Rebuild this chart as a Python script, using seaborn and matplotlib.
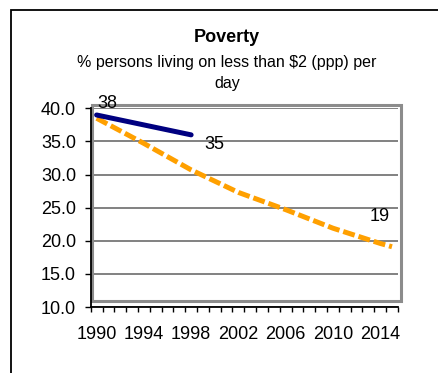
import numpy as np
import pandas as pd
import matplotlib
matplotlib.use("Agg")
import matplotlib.pyplot as plt
from matplotlib.patches import Rectangle
import seaborn as sns

# Observed share of people below $2 (ppp) a day
actual_years = [1990, 1998]
actual_values = [38.99, 35.99]

# Path toward halving the 1990 rate by 2015
target_years = [1990, 1994, 1998, 2002, 2006, 2010, 2014, 2015]
target_values = [38.5, 34.7, 30.7, 27.3, 24.7, 21.9, 19.6, 19.1]

year_labels = [1990, 1994, 1998, 2002, 2006, 2010, 2014]
y_ticks = [10, 15, 20, 25, 30, 35, 40]

sns.set_style("white")
plt.rcParams["font.family"] = ["Liberation Sans", "DejaVu Sans"]
plt.rcParams.update({"text.color": "black", "xtick.color": "black",
                     "ytick.color": "black", "axes.labelcolor": "black"})

W, H = 439, 373
fig = plt.figure(figsize=(W / 100, H / 100), dpi=100)
ax = fig.add_axes([90.7 / W, 1 - 307 / H, 307.2 / W, 198.7 / H])

actual = pd.DataFrame({"year": actual_years, "value": actual_values})
target = pd.DataFrame({"year": target_years, "value": target_values})

sns.lineplot(data=target, x="year", y="value", ax=ax, color="#FFA000",
             lw=3.6, linestyle=(0, (2.4, 0.8)), dash_capstyle="butt", zorder=3)
sns.lineplot(data=actual, x="year", y="value", ax=ax, color="#000080",
             lw=3.6, solid_capstyle="round", zorder=4)

ax.set_xlim(1989.5, 2015.5)
ax.set_ylim(10, 40)
ax.set_xlabel("")
ax.set_ylabel("")

# horizontal grid
ax.set_yticks(y_ticks)
ax.set_yticklabels([f"{v:.1f}" for v in y_ticks])
ax.grid(axis="y", color="#777777", lw=1.3)
ax.grid(axis="x", visible=False)

# category-style year axis: ticks between years, labels centred on years
ax.set_xticks(year_labels)
ax.set_xticklabels([str(y) for y in year_labels])
ax.set_xticks(np.arange(1989.5, 2016, 1), minor=True)
ax.tick_params(axis="x", which="major", length=0, pad=14, labelsize=13,
               labelcolor="black")
ax.tick_params(axis="x", which="minor", length=3.5, width=1, color="black",
               direction="out", bottom=True)
ax.tick_params(axis="y", length=4.5, width=1, color="black", direction="out",
               left=True, pad=6, labelsize=13, labelcolor="black")

for side in ["top", "right"]:
    ax.spines[side].set_visible(False)
for side in ["left", "bottom"]:
    ax.spines[side].set_color("black")
    ax.spines[side].set_linewidth(1.3)

# plot-area border
ax.add_patch(Rectangle((1989.65, 10.9), 2015.76 - 1989.65, 40.57 - 10.9,
                       fill=False, edgecolor="#8c8c8c", lw=2.2,
                       clip_on=False, zorder=1))

# value labels
lab = dict(textcoords="offset points", ha="center", va="center", fontsize=13,
           color="black")
ax.annotate(f"{int(actual_values[0])}", (actual_years[0], actual_values[0]),
            xytext=(8, 8), **lab)
ax.annotate(f"{int(actual_values[-1])}", (actual_years[-1], actual_values[-1]),
            xytext=(17, -7), **lab)
ax.annotate(f"{int(target_values[-1])}", (target_years[-1], target_values[-1]),
            xytext=(-9, 22), **lab)

# titles
fig.text(227 / W, 1 - 38 / H, "Poverty", ha="center", va="center",
         fontsize=13, fontweight="bold", color="black")
fig.text(227 / W, 1 - 73 / H, "% persons living on less than $2 (ppp) per\nday",
         ha="center", va="center", fontsize=11.5, linespacing=1.45,
         color="black")

# chart border
fig.add_artist(Rectangle((11 / W, -0.05), 1.1, 1 - 10 / H + 0.05,
                         transform=fig.transFigure, fill=False,
                         edgecolor="black", lw=1.3))

fig.savefig("out.png", dpi=100)
